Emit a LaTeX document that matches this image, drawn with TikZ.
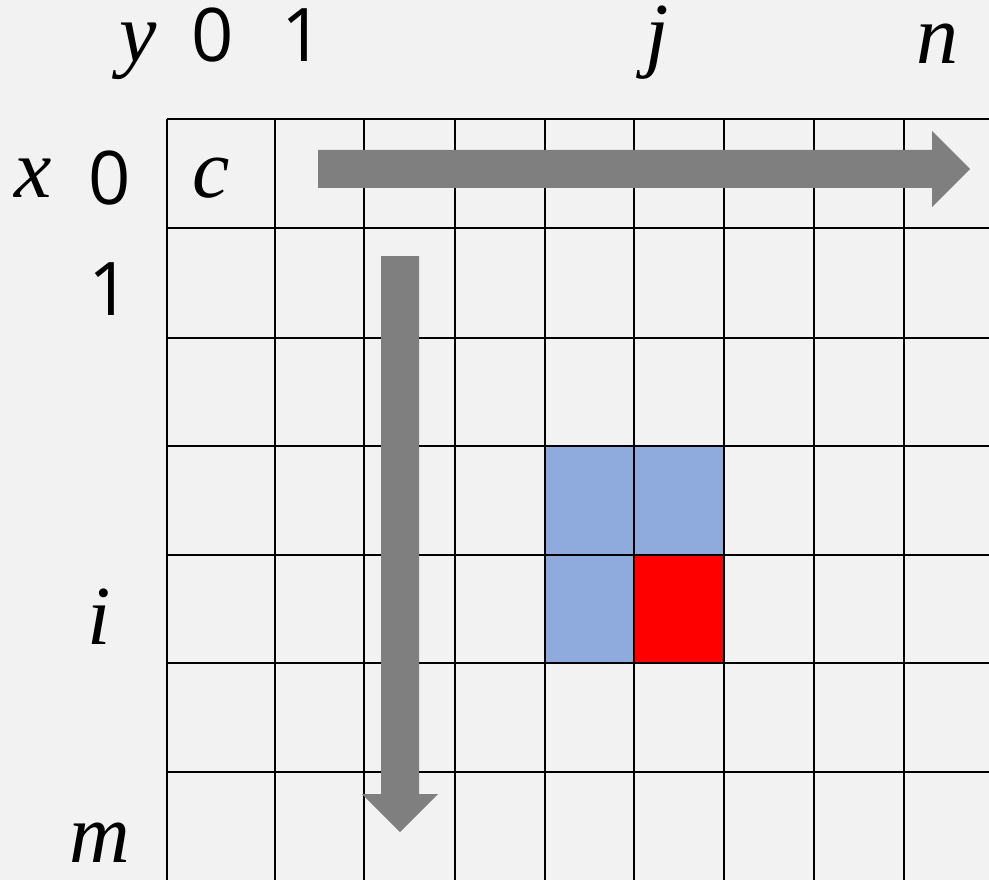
\documentclass[tikz,border=0pt]{standalone}
\usepackage{fontspec}
\setmainfont{Open Sans}
\newfontfamily\varfont{Liberation Serif}
\definecolor{bg}{HTML}{F2F2F2}
\definecolor{cellblue}{HTML}{8FAADC}
\definecolor{cellred}{HTML}{FF0000}
\definecolor{arrowgrey}{HTML}{7F7F7F}
\tikzset{
  gridline/.style={line width=2.6pt, black},
  num/.style={inner sep=0pt, anchor=base, font=\fontsize{74}{80}\selectfont},
  var/.style={inner sep=0pt, anchor=base, font=\varfont\itshape\fontsize{84}{90}\selectfont},
  bigarrow/.style={fill=arrowgrey, draw=none}
}
\begin{document}
\begin{tikzpicture}[x=1pt,y=-1pt]
\useasboundingbox (0,0) rectangle (989,880);
\fill[bg] (0,0) rectangle (989,880);
\begin{scope}
\clip (0,0) rectangle (989,880);
% coloured cells
\fill[cellblue] (545,446) rectangle (634,555);
\fill[cellblue] (634,446) rectangle (724,555);
\fill[cellblue] (545,555) rectangle (634,663);
\fill[cellred] (634,555) rectangle (724,663);
% grid
\foreach \gx in {167,275,364,455,545,634,724,814,904}
  \draw[gridline] (\gx,119) -- (\gx,890);
\foreach \gy in {119,228,338,446,555,663,772}
  \draw[gridline] (167,\gy) -- (1000,\gy);
\draw[gridline, line width=1pt, gray!40] (167,880) -- (1000,880);
% arrows
\fill[bigarrow] (318,150) -- (932,150) -- (932,131) -- (970,169) -- (932,207) -- (932,188) -- (318,188) -- cycle;
\fill[bigarrow] (381,256) -- (419,256) -- (419,794) -- (438,794) -- (400,832) -- (362,794) -- (381,794) -- cycle;
\end{scope}
% labels top
\node[var] (ly) at (138,62) {y};
\node[num] (l0t) at (213,62) {0};
\node[num] (l1t) at (303,62) {1};
\node[var] (lj) at (657,62) {j};
\node[var] (ln) at (937,64) {n};
% labels left
\node[var] (lx) at (33,198) {x};
\node[num] (l0l) at (110,205) {0};
\node[num] (l1l) at (110,315) {1};
\node[var] (li) at (99,644) {i};
\node[var] (lm) at (100,862) {m};
% cell label
\node[var] (lc) at (211,198) {c};
\end{tikzpicture}
\end{document}
